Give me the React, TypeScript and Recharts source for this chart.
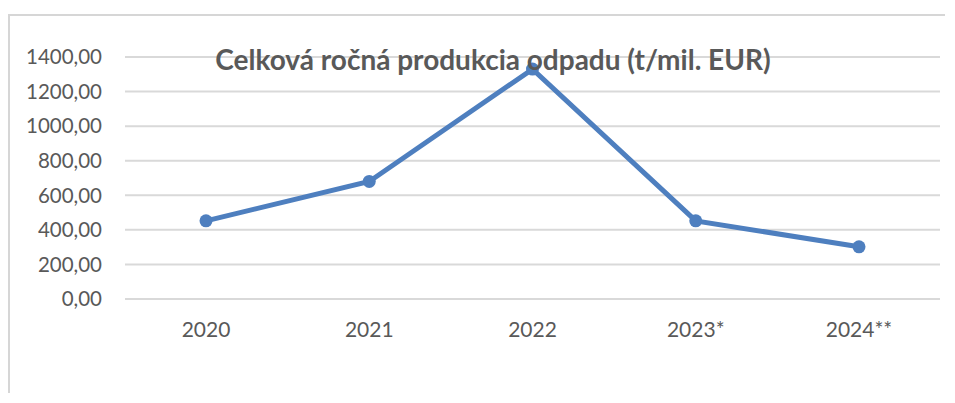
import React from 'react';
import { LineChart, Line, XAxis, YAxis, CartesianGrid } from 'recharts';

const years = ['2020', '2021', '2022', '2023*', '2024**'];
const production = [452, 680, 1330, 452, 302];
const yTicks = [0, 200, 400, 600, 800, 1000, 1200, 1400];

const data = years.map((year, i) => ({ year, value: production[i] }));

const fmt = (v: number) => v.toFixed(2).replace('.', ',');

const FONT = 'Lato, "Liberation Sans", sans-serif';
const GRAY = '#595959';
const FRAME = '#d6d6d6';

export default function App() {
  return (
    <div style={{ position: 'relative', width: 937, height: 385, fontFamily: FONT }}>
      {/* frame of the chart area */}
      <div style={{ position: 'absolute', left: 0, top: 6, width: 937, height: 2, background: FRAME }} />
      <div style={{ position: 'absolute', left: 0, top: 6, width: 2, height: 379, background: FRAME }} />
      <div style={{ position: 'absolute', left: 0, top: 8, width: 937, height: 377 }}>
        <LineChart width={937} height={377} data={data} margin={{ top: 41, right: 5, bottom: 0, left: 0 }}>
          <CartesianGrid vertical={false} stroke="#d9d9d9" strokeWidth={2} />
          <XAxis
            dataKey="year"
            axisLine={false}
            tickLine={false}
            tickSize={0}
            tickMargin={23}
            height={94}
            padding={{ left: 81, right: 81 }}
            tick={{ fill: GRAY, fontSize: 21, fontFamily: FONT }}
          />
          <YAxis
            domain={[0, 1400]}
            ticks={yTicks}
            width={117}
            axisLine={false}
            tickLine={false}
            tickSize={0}
            tickMargin={23}
            tickFormatter={fmt}
            tick={{ fill: GRAY, fontSize: 20.5, fontFamily: FONT }}
          />
          <Line
            dataKey="value"
            stroke="#4E7FBF"
            strokeWidth={5}
            dot={{ r: 6.5, fill: '#4E7FBF', stroke: 'none' }}
            isAnimationActive={false}
          />
        </LineChart>
      </div>
      <div
        style={{
          position: 'absolute',
          left: 0,
          width: 937,
          paddingLeft: 33,
          boxSizing: 'border-box',
          top: 35,
          textAlign: 'center',
          color: GRAY,
          fontWeight: 'bold',
          fontSize: 28,
          lineHeight: '32px',
          whiteSpace: 'nowrap',
          pointerEvents: 'none',
        }}
      >
        Celková ročná produkcia odpadu (t/mil. EUR)
      </div>
    </div>
  );
}
